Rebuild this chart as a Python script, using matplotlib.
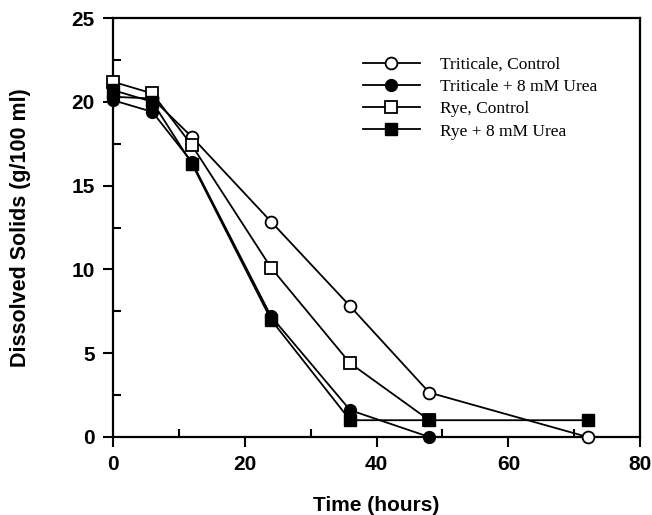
import matplotlib
matplotlib.use("Agg")
import matplotlib.pyplot as plt
from matplotlib.ticker import MultipleLocator

time_tc = [0, 6, 12, 24, 36, 48, 72]
tritic_control = [20.3, 20.2, 17.9, 12.85, 7.8, 2.65, 0.0]
time_tu = [0, 6, 12, 24, 36, 48]
tritic_urea = [20.1, 19.4, 16.4, 7.2, 1.6, 0.0]
time_rc = [0, 6, 12, 24, 36, 48]
rye_control = [21.2, 20.5, 17.4, 10.1, 4.4, 1.0]
time_ru = [0, 6, 12, 24, 36, 48, 72]
rye_urea = [20.7, 20.0, 16.3, 7.0, 1.0, 1.0, 1.0]

labels = ["Triticale, Control", "Triticale + 8 mM Urea", "Rye, Control", "Rye + 8 mM Urea"]

fig = plt.figure(figsize=(6.52, 5.15), dpi=100)
ax = fig.add_axes([0.173, 0.1515, 0.809, 0.8135])

ms = 8.5
lw = 1.3
kw = dict(color='black', mec='black', ms=ms, lw=lw, clip_on=False)
l1, = ax.plot(time_tc, tritic_control, '-o', mfc='white', mew=1.3, zorder=3, **kw)
l2, = ax.plot(time_tu, tritic_urea, '-o', mfc='black', zorder=3, **kw)
l3, = ax.plot(time_rc, rye_control, '-s', mfc='white', mew=1.3, zorder=3, **kw)
l4, = ax.plot(time_ru, rye_urea, '-s', mfc='black', zorder=4, **kw)

ax.set_xlim(0, 80)
ax.set_ylim(0, 25)
ax.xaxis.set_major_locator(MultipleLocator(20))
ax.xaxis.set_minor_locator(MultipleLocator(10))
ax.yaxis.set_major_locator(MultipleLocator(5))
ax.yaxis.set_minor_locator(MultipleLocator(2.5))
ax.tick_params(which='major', direction='out', length=7, width=1.5, labelsize=15, pad=6)
ax.tick_params(which='minor', direction='in', length=6, width=1.5)
for lab in ax.get_xticklabels() + ax.get_yticklabels():
    lab.set_fontfamily('Liberation Sans')
    lab.set_fontweight('bold')
for s in ax.spines.values():
    s.set_linewidth(1.6)

ax.set_xlabel("Time (hours)", fontsize=15, fontweight='bold', family='Liberation Sans', labelpad=15.5)
ax.set_ylabel("Dissolved Solids (g/100 ml)", fontsize=15.5, fontweight='bold', family='Liberation Sans', labelpad=29)

leg = ax.legend([l1, l2, l3, l4], labels, loc='upper left', bbox_to_anchor=(0.444, 0.945),
                frameon=False, handlelength=3.3, handletextpad=1.15, labelspacing=0.35,
                prop={'family': 'Liberation Serif', 'size': 12.5})

fig.savefig("out.png", dpi=100)
